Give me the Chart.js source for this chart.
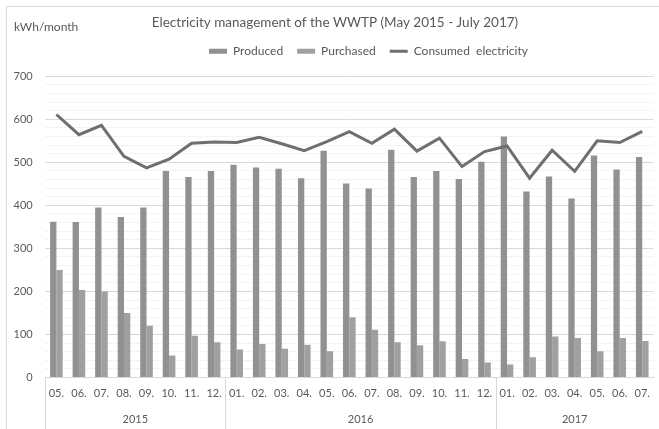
<!DOCTYPE html>
<html>
<head>
<meta charset="utf-8">
<script src="https://cdn.jsdelivr.net/npm/chart.js@4.4.0/dist/chart.umd.min.js"></script>
<style>
  html, body { margin: 0; padding: 0; background: #fff; }
  #wrap { position: relative; width: 659px; height: 429px; }
  #chart { display: block; }
  #frame { position: absolute; left: 6px; top: 6px; right: 0; bottom: 0;
           border-left: 1px solid #d9d9d9; border-top: 1px solid #d9d9d9; pointer-events: none; }
  #unit { position: absolute; left: 14px; top: 20px; font: 12px Lato, sans-serif; line-height: 14px; color: #595959; }
</style>
</head>
<body>
<div id="wrap">
  <canvas id="chart" width="659" height="429"></canvas>
  <div id="frame"></div>
  <div id="unit">kWh/month</div>
</div>
<script>
// months on the axis, grouped by year below
const months = ['05.', '06.', '07.', '08.', '09.', '10.', '11.', '12.',
  '01.', '02.', '03.', '04.', '05.', '06.', '07.', '08.', '09.', '10.', '11.', '12.',
  '01.', '02.', '03.', '04.', '05.', '06.', '07.'];
const yearLabels = ['2015', '2016', '2017'];
const monthsInYear = [8, 12, 7];

// kWh/month
const produced = [362, 361, 395, 373, 395, 480, 466, 480,
  494, 488, 485, 463, 527, 451, 439, 529, 466, 480, 461, 501,
  560, 432, 467, 416, 516, 483, 512];
const purchased = [250, 203, 200, 150, 120, 51, 97, 82,
  65, 78, 67, 76, 61, 140, 111, 82, 75, 84, 43, 35,
  30, 47, 95, 92, 61, 92, 85];
const consumed = [611, 564, 586, 514, 487, 507, 544, 547,
  546, 558, 543, 527, 548, 571, 544, 577, 526, 556, 490, 525,
  538, 463, 528, 479, 550, 546, 572];

const textColor = '#595959';
const font = 'Lato, sans-serif';

// legend/title placement tweaks (legend sits right of centre in the original)
const headerPlace = {
  id: 'headerPlace',
  beforeLayout(chart) {
    const lg = chart.legend;
    if (lg && !lg._patched) {
      const fit = lg.fit;
      lg.fit = function () { fit.call(this); this.height = 45; };
      lg._patched = true;
    }
  },
  afterLayout(chart) {
    const lg = chart.legend;
    const d = 195 - lg.left;
    lg.left += d;
    lg.right += d;
    const tb = chart.titleBlock;
    if (tb) { tb.left += 7; tb.right += 7; }
  }
};

// second level of the category axis: year dividers and year names
const yearAxis = {
  id: 'yearAxis',
  afterDraw(chart) {
    const xs = chart.scales.x;
    const step = xs.width / months.length;
    const ctx = chart.ctx;
    ctx.save();
    ctx.strokeStyle = '#d9d9d9';
    ctx.lineWidth = 1;
    ctx.fillStyle = textColor;
    ctx.font = '11px ' + font;
    ctx.textAlign = 'center';
    ctx.textBaseline = 'middle';
    let start = 0;
    monthsInYear.forEach((n, k) => {
      const x0 = xs.getPixelForValue(start) - step / 2;
      const xd = Math.round(x0) + 0.5;
      ctx.beginPath();
      ctx.moveTo(xd, xs.top);
      ctx.lineTo(xd, chart.height);
      ctx.stroke();
      ctx.fillText(yearLabels[k], x0 + n * step / 2, xs.bottom + 11);
      start += n;
    });
    ctx.restore();
  }
};

function legendLabels(chart) {
  const items = Chart.defaults.plugins.legend.labels.generateLabels(chart);
  items.sort((a, b) => a.datasetIndex - b.datasetIndex);
  items.forEach(it => {
    const ds = chart.data.datasets[it.datasetIndex];
    it.pointStyle = ds.type === 'line' ? 'line' : 'rect';
  });
  return items;
}

new Chart(document.getElementById('chart'), {
  type: 'bar',
  data: {
    labels: months,
    datasets: [
      {
        label: 'Produced',
        data: produced,
        backgroundColor: '#919191',
        borderWidth: 0,
        categoryPercentage: 0.56,
        barPercentage: 1,
        order: 1
      },
      {
        label: 'Purchased',
        data: purchased,
        backgroundColor: '#a0a0a0',
        borderWidth: 0,
        categoryPercentage: 0.56,
        barPercentage: 1,
        order: 1
      },
      {
        type: 'line',
        label: 'Consumed  electricity',
        data: consumed,
        borderColor: '#6f6f6f',
        backgroundColor: '#6f6f6f',
        borderWidth: 3,
        pointRadius: 0,
        tension: 0,
        order: 0
      }
    ]
  },
  options: {
    responsive: false,
    animation: false,
    layout: { padding: { left: 1, right: 4, top: 0, bottom: 20.3 } },
    plugins: {
      title: {
        display: true,
        text: 'Electricity management of the WWTP (May 2015 - July 2017)',
        color: textColor,
        font: { family: font, size: 13.5, weight: 'normal' },
        padding: { top: 15, bottom: 0 }
      },
      legend: {
        position: 'top',
        align: 'start',
        labels: {
          color: textColor,
          font: { family: font, size: 12 },
          usePointStyle: true,
          pointStyleWidth: 18,
          boxHeight: 5,
          padding: 14,
          generateLabels: legendLabels
        }
      },
      tooltip: { enabled: false }
    },
    scales: {
      x: {
        type: 'category',
        offset: true,
        grid: { display: false, drawTicks: false },
        border: { display: true, color: '#d9d9d9' },
        ticks: { color: textColor, font: { family: font, size: 11 }, padding: 9, maxRotation: 0, autoSkip: false }
      },
      y: {
        min: 0,
        max: 700,
        border: { display: false },
        grid: {
          drawTicks: false,
          color: c => (c.tick && c.tick.value % 100 === 0) ? '#d9d9d9' : '#f3f3f3'
        },
        ticks: {
          stepSize: 20,
          autoSkip: false,
          padding: 12.5,
          color: textColor,
          font: { family: font, size: 11 },
          callback: v => (v % 100 === 0 ? v : '')
        }
      }
    }
  },
  plugins: [headerPlace, yearAxis]
});
</script>
</body>
</html>
